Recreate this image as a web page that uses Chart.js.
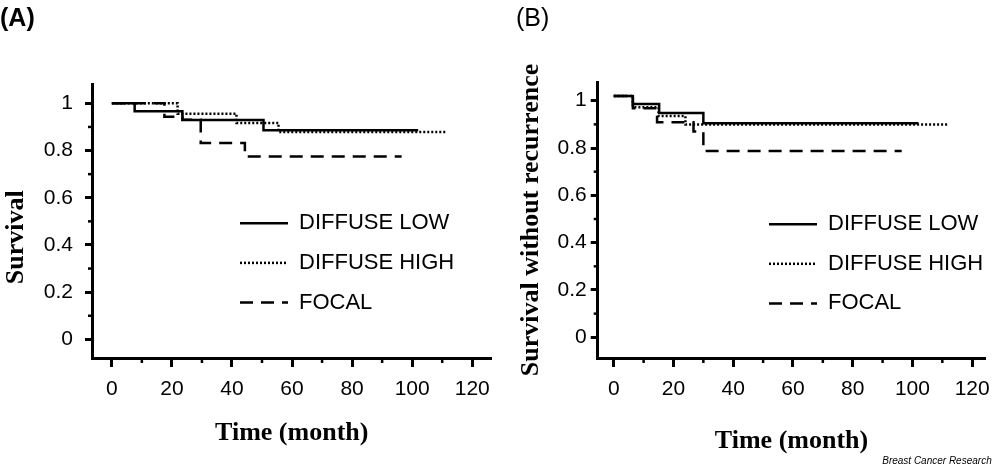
<!DOCTYPE html>
<html>
<head>
<meta charset="utf-8">
<title>Survival by distribution</title>
<script src="https://cdn.jsdelivr.net/npm/chart.js@4.4.1/dist/chart.umd.min.js"></script>
<style>
  body { margin: 0; background: #fff; }
  canvas { position: absolute; top: 0; }
  #chartA { left: 0; }
  #chartB { left: 500px; }
</style>
</head>
<body>
<canvas id="chartA" width="500" height="467"></canvas>
<canvas id="chartB" width="500" height="467"></canvas>
<script>
const seriesNames = ["DIFFUSE LOW", "DIFFUSE HIGH", "FOCAL"];
const xTickLabels = [0, 20, 40, 60, 80, 100, 120];
const yTickLabels = [0, 0.2, 0.4, 0.6, 0.8, 1];

// (A) survival - month of each step and the level after it
const lowMonthsA = [0, 7.6, 23.5, 50.5, 102];
const lowSurvA = [1.0, 0.967, 0.929, 0.886, 0.886];
const highMonthsA = [0, 21.9, 41.5, 55.5, 111.5];
const highSurvA = [1.0, 0.956, 0.917, 0.879, 0.879];
const focalMonthsA = [0, 17.5, 23.5, 29.6, 44.3, 96.5];
const focalSurvA = [1.0, 0.943, 0.93, 0.832, 0.775, 0.775];

// (B) survival without recurrence
const lowMonthsB = [0, 6.4, 15.2, 30, 102];
const lowSurvB = [1.02, 0.986, 0.948, 0.905, 0.905];
const highMonthsB = [0, 6.4, 15, 24, 111.7];
const highSurvB = [1.02, 0.972, 0.935, 0.899, 0.899];
const focalMonthsB = [0, 6.4, 14.5, 26.7, 30, 96.4];
const focalSurvB = [1.02, 0.968, 0.909, 0.87, 0.787, 0.787];

const sans = 'Arial, "Liberation Sans", sans-serif';
const serif = '"Times New Roman", "Liberation Serif", serif';
const dashes = [[], [2, 2], [13, 8]];

Chart.defaults.color = "#000";

function isMajor(list, v) {
    return list.some(t => Math.abs(t - v) < 1e-6);
}

// short unlabelled ticks between the labelled ones
const minorTicks = {
    id: "minorTicks",
    afterDraw(chart) {
        const ctx = chart.ctx;
        const xs = chart.scales.x, ys = chart.scales.y;
        ctx.save();
        ctx.strokeStyle = "#000";
        ctx.lineWidth = 2.5;
        xs.ticks.forEach(t => {
            if (isMajor(xTickLabels, t.value)) return;
            const px = xs.getPixelForValue(t.value);
            ctx.beginPath();
            ctx.moveTo(px, xs.top);
            ctx.lineTo(px, xs.top + 5);
            ctx.stroke();
        });
        ys.ticks.forEach(t => {
            if (isMajor(yTickLabels, t.value)) return;
            const py = ys.getPixelForValue(t.value);
            ctx.beginPath();
            ctx.moveTo(ys.right, py);
            ctx.lineTo(ys.right - 4, py);
            ctx.stroke();
        });
        ctx.restore();
    }
};

// move the legend to its spot inside the plot
const legendSpot = {
    id: "legendSpot",
    afterLayout(chart, args, opts) {
        const lg = chart.legend;
        lg.left = chart.chartArea.left + opts.dx;
        lg.top = chart.chartArea.top + opts.dy;
        lg.right = lg.left + lg.width;
        lg.bottom = lg.top + lg.height;
    }
};

// legend samples keep the dash pattern of their line
function legendItems(chart) {
    const items = Chart.defaults.plugins.legend.labels.generateLabels(chart);
    items.forEach(it => {
        const ds = chart.data.datasets[it.datasetIndex];
        it.lineDash = ds.borderDash;
        it.lineWidth = ds.borderWidth;
        it.strokeStyle = ds.borderColor;
    });
    return items;
}

function makeChart(id, p) {
    const datasets = p.months.map((m, i) => ({
        label: seriesNames[i],
        data: m.map((x, j) => ({ x: x, y: p.surv[i][j] })),
        borderColor: "#000",
        backgroundColor: "#000",
        borderWidth: 2.5,
        borderDash: dashes[i],
        stepped: true,
        pointRadius: 0,
        fill: false
    }));

    return new Chart(document.getElementById(id), {
        type: "line",
        data: { datasets: datasets },
        options: {
            responsive: false,
            animation: false,
            devicePixelRatio: 1,
            layout: { padding: p.pad },
            scales: {
                x: {
                    type: "linear",
                    min: p.xMin, max: p.xMax,
                    afterFit: s => { s.height = p.xHeight; },
                    border: { display: true, color: "#000", width: 3 },
                    grid: {
                        drawOnChartArea: false, tickLength: 9, tickWidth: 3,
                        tickColor: c => isMajor(xTickLabels, c.tick.value) ? "#000" : "rgba(0,0,0,0)"
                    },
                    ticks: {
                        stepSize: 10, includeBounds: false, autoSkip: false, maxRotation: 0,
                        padding: 10,
                        font: { family: sans, size: 21 },
                        callback: v => isMajor(xTickLabels, v) ? String(v) : ""
                    },
                    title: {
                        display: true, text: "Time (month)",
                        font: { family: serif, size: 26, weight: "bold" },
                        padding: { top: 0, bottom: p.xTitlePad }
                    }
                },
                y: {
                    type: "linear",
                    min: p.yMin, max: p.yMax,
                    afterFit: s => { s.width = p.yWidth; },
                    border: { display: true, color: "#000", width: 3 },
                    grid: {
                        drawOnChartArea: false, tickLength: 7, tickWidth: 3,
                        tickColor: c => isMajor(yTickLabels, c.tick.value) ? "#000" : "rgba(0,0,0,0)"
                    },
                    ticks: {
                        stepSize: 0.1, includeBounds: false, autoSkip: false,
                        padding: p.yTickPad,
                        font: { family: sans, size: 21 },
                        callback: v => isMajor(yTickLabels, v) ? String(Math.round(v * 10) / 10) : ""
                    },
                    title: {
                        display: true, text: p.yTitle,
                        font: { family: serif, size: 26, weight: "bold" },
                        padding: { top: p.yTitlePad, bottom: 0 }
                    }
                }
            },
            plugins: {
                tooltip: { enabled: false },
                title: {
                    display: true, text: p.panel, align: "start",
                    font: { family: sans, size: 25, weight: p.panelWeight },
                    padding: { top: 4, bottom: p.panelPad }
                },
                subtitle: {
                    display: !!p.credit, text: p.credit || "", position: "bottom", align: "end",
                    font: { family: sans, size: 10, style: "italic" },
                    padding: { top: 0, bottom: 0 }
                },
                legend: {
                    position: "chartArea", align: "start",
                    labels: {
                        usePointStyle: true, pointStyle: "line", pointStyleWidth: 48,
                        padding: 17.6, color: "#000",
                        font: { family: sans, size: 22 },
                        generateLabels: legendItems
                    }
                },
                legendSpot: { dx: p.legendDx, dy: p.legendDy }
            }
        },
        plugins: [minorTicks, legendSpot]
    });
}

makeChart("chartA", {
    months: [lowMonthsA, highMonthsA, focalMonthsA],
    surv: [lowSurvA, highSurvA, focalSurvA],
    panel: "(A)", panelWeight: "bold", panelPad: 50,
    // trailing spaces push the label a little lower, as in the original
    yTitle: "Survival     ", yTitlePad: 1,
    xMin: -6.6, xMax: 126.4, yMin: -0.079, yMax: 1.082,
    pad: { left: 0, right: 5, top: 0, bottom: 0 },
    yWidth: 92, xHeight: 109, xTitlePad: 18.4, yTickPad: 12,
    legendDx: 130.4, legendDy: 110.7
});

makeChart("chartB", {
    months: [lowMonthsB, highMonthsB, focalMonthsB],
    surv: [lowSurvB, highSurvB, focalSurvB],
    panel: "(B)", panelWeight: "normal", panelPad: 48,
    yTitle: "Survival without recurrence", yTitlePad: 0,
    xMin: -5.37, xMax: 124.4, yMin: -0.0875, yMax: 1.079,
    pad: { left: 16, right: 8.3, top: 0, bottom: 0 },
    yWidth: 81.7, xHeight: 97, xTitlePad: -2.3, yTickPad: 4,
    legendDx: 153.7, legendDy: 113.6,
    credit: "Breast Cancer Research"
});
</script>
</body>
</html>
